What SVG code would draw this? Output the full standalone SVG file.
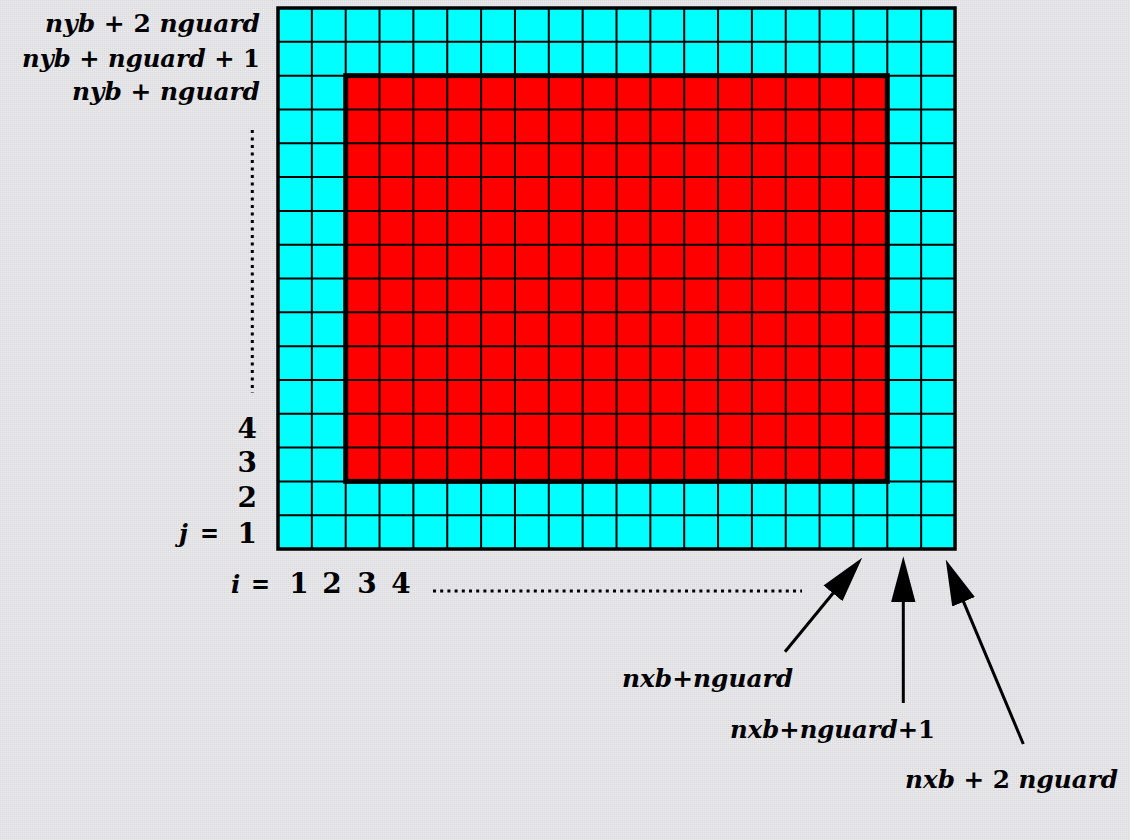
<svg xmlns="http://www.w3.org/2000/svg" width="1130" height="840" viewBox="0 0 1130 840">
  <defs>
    <pattern id="dither" width="2" height="2" patternUnits="userSpaceOnUse">
      <rect width="2" height="2" fill="#e3e3e8"/>
      <rect width="1" height="1" fill="#dadae6"/>
      <rect x="1" y="1" width="1" height="1" fill="#ebebe2"/>
    </pattern>
    <marker id="head" markerUnits="userSpaceOnUse" markerWidth="46" markerHeight="26" viewBox="0 0 45 24" refX="15" refY="12" orient="auto">
      <path d="M0,0 L45,12 L0,24 Z" fill="#000"/>
    </marker>
    <style>
      text { font-family: "DejaVu Serif", serif; }
      .lbl { font-weight: bold; font-style: italic; font-size: 24.5px; fill: #000; }
      .up { font-style: normal; }
      .num { font-weight: bold; font-size: 28px; fill: #000; }
      .thin { stroke: #000; stroke-width: 2; fill: none; }
      .dots { stroke: #000; stroke-width: 3; fill: none; }
      .arrow { stroke: #000; stroke-width: 3; fill: none; marker-end: url(#head); }
    </style>
  </defs>

  <rect width="1130" height="840" fill="url(#dither)"/>

  <g id="grid">
    <rect x="278" y="8" width="677" height="541" fill="#00ffff"/>
    <rect x="345.7" y="75.63" width="541.6" height="405.75" fill="#ff0000"/>
    <path class="thin" d="M311.85 8V549M345.7 8V549M379.55 8V549M413.4 8V549M447.25 8V549M481.1 8V549M514.95 8V549M548.8 8V549M582.65 8V549M616.5 8V549M650.35 8V549M684.2 8V549M718.05 8V549M751.9 8V549M785.75 8V549M819.6 8V549M853.45 8V549M887.3 8V549M921.15 8V549
      M278 41.81H955M278 75.63H955M278 109.44H955M278 143.25H955M278 177.06H955M278 210.88H955M278 244.69H955M278 278.5H955M278 312.31H955M278 346.13H955M278 379.94H955M278 413.75H955M278 447.56H955M278 481.38H955M278 515.19H955"/>
    <rect x="345.7" y="75.63" width="541.6" height="405.75" fill="none" stroke="#000" stroke-width="5"/>
    <rect x="278" y="8" width="677" height="541" fill="none" stroke="#000" stroke-width="3.5"/>
  </g>

  <g id="j-labels">
    <text class="lbl" x="260" y="32" text-anchor="end" textLength="215" lengthAdjust="spacingAndGlyphs">nyb <tspan class="up">+ 2</tspan> nguard</text>
    <text class="lbl" x="260" y="66.5" text-anchor="end" textLength="238" lengthAdjust="spacingAndGlyphs">nyb <tspan class="up">+</tspan> nguard <tspan class="up">+ 1</tspan></text>
    <text class="lbl" x="260" y="100" text-anchor="end" textLength="188" lengthAdjust="spacingAndGlyphs">nyb <tspan class="up">+</tspan> nguard</text>
    <text class="num" x="257" y="438" text-anchor="end">4</text>
    <text class="num" x="257" y="472" text-anchor="end">3</text>
    <text class="num" x="257" y="507" text-anchor="end">2</text>
    <text class="num" x="257" y="543" text-anchor="end">1</text>
    <text class="lbl" x="179" y="542" font-size="27">j</text>
    <text class="num" x="200" y="542" textLength="19" lengthAdjust="spacingAndGlyphs">=</text>
  </g>

  <g id="i-labels">
    <text class="lbl" x="231" y="593" font-size="27">i</text>
    <text class="num" x="251" y="593" textLength="19" lengthAdjust="spacingAndGlyphs">=</text>
    <text class="num" x="299" y="593" text-anchor="middle">1</text>
    <text class="num" x="332" y="593" text-anchor="middle">2</text>
    <text class="num" x="367" y="593" text-anchor="middle">3</text>
    <text class="num" x="401" y="593" text-anchor="middle">4</text>
  </g>

  <g id="x-labels">
    <text class="lbl" x="622" y="687" textLength="171" lengthAdjust="spacingAndGlyphs">nxb<tspan class="up">+</tspan>nguard</text>
    <text class="lbl" x="730" y="738" textLength="205" lengthAdjust="spacingAndGlyphs">nxb<tspan class="up">+</tspan>nguard<tspan class="up">+1</tspan></text>
    <text class="lbl" x="1118" y="788" text-anchor="end" textLength="213" lengthAdjust="spacingAndGlyphs">nxb <tspan class="up">+ 2</tspan> nguard</text>
  </g>

  <g id="dotted">
    <path class="dots" d="M252.3 130V393" stroke-dasharray="3 4.5"/>
    <path class="dots" d="M433 591H802" stroke-dasharray="3 4.2"/>
  </g>

  <g id="connectors">
    <line class="arrow" x1="785" y1="651.7" x2="842.7" y2="581.5"/>
    <line class="arrow" x1="903.3" y1="703" x2="903.3" y2="587"/>
    <line class="arrow" x1="1023.3" y1="744" x2="957.6" y2="587.7"/>
  </g>
</svg>
